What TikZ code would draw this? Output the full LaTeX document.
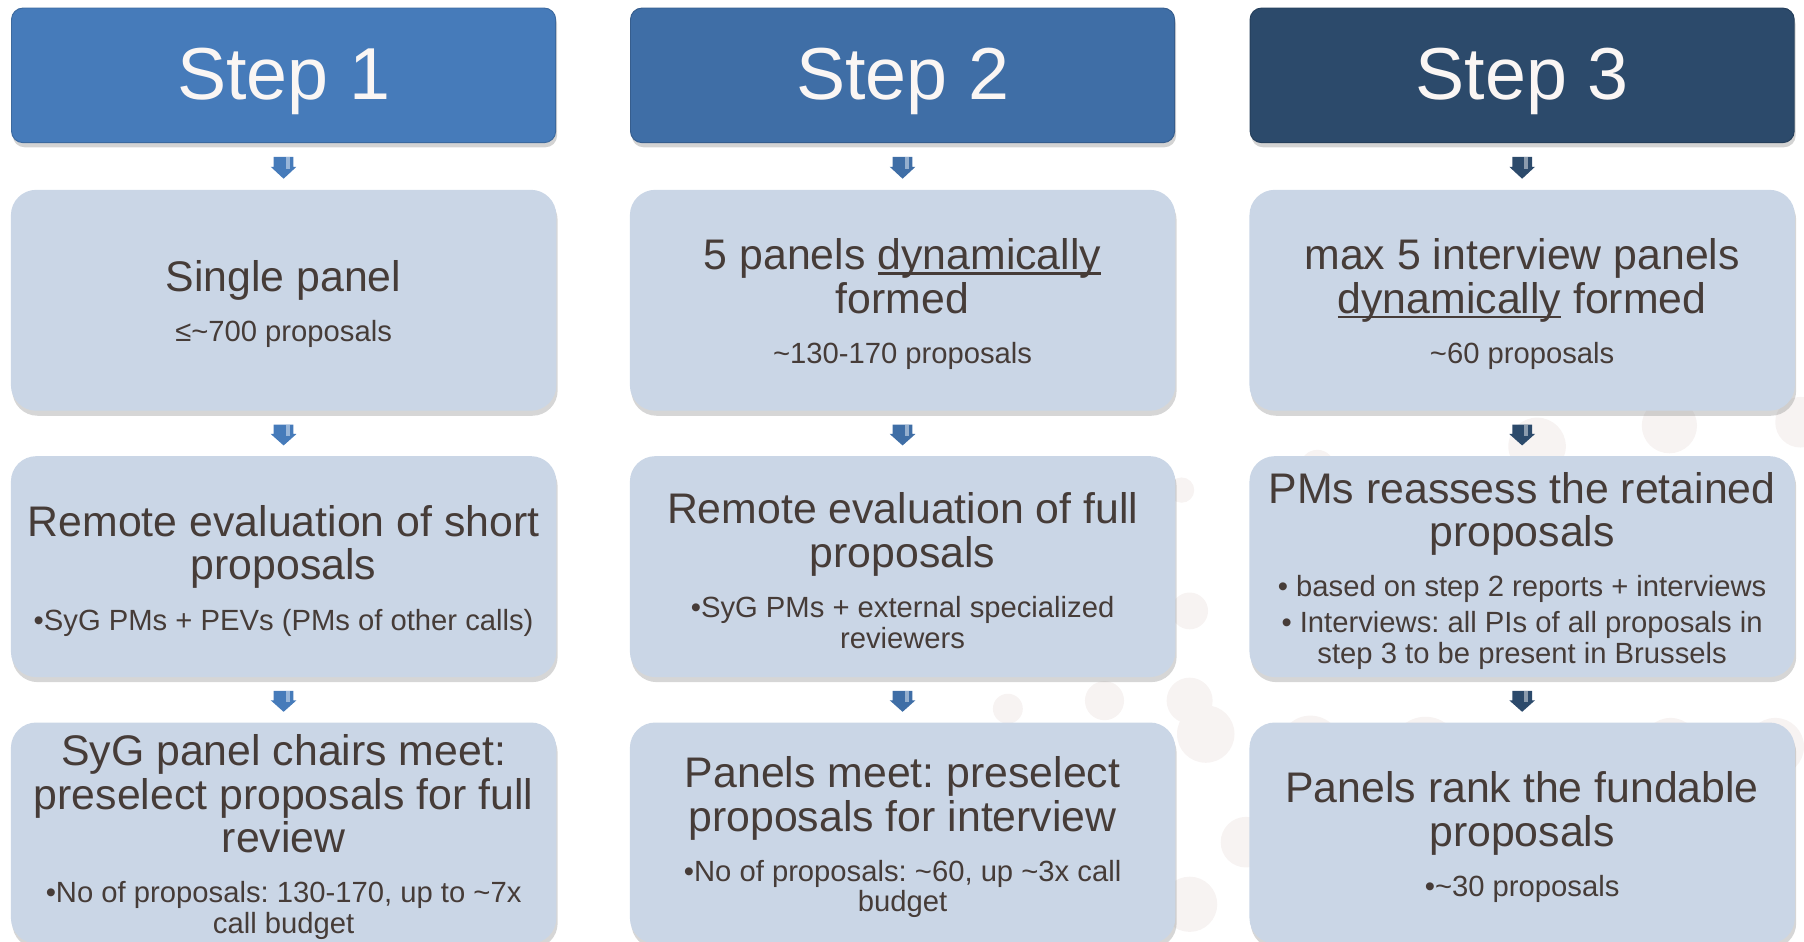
\documentclass[tikz,border=0pt]{standalone}
\usepackage{fontspec}
\setmainfont{Liberation Sans}
\usetikzlibrary{calc,shadows}
\definecolor{hdrA}{HTML}{467BBA}
\definecolor{hdrB}{HTML}{3F6EA6}
\definecolor{hdrC}{HTML}{2C4A6B}
\definecolor{hdrtext}{HTML}{FAF6F4}
\definecolor{boxfill}{HTML}{CAD6E6}
\definecolor{txt}{HTML}{463C38}
\definecolor{circ}{HTML}{F7F3F2}
\newcommand{\titletxt}{\fontsize{18.6}{19}\selectfont}
\newcommand{\subtxt}{\fontsize{12.7}{13.25}\selectfont}
\newcommand{\tld}{\textasciitilde}
\newcommand{\undl}[1]{\leavevmode\setbox0\hbox{#1}\rlap{\rule[-0.11em]{\wd0}{0.065em}}\box0\relax}
\newcommand{\cardtext}[1]{\raisebox{-1.75pt}[\height][\depth]{\parbox{234pt}{\centering #1}}}
\newcommand{\steptext}[1]{\raisebox{-2.5pt}[\height][\depth]{#1}}
\newcommand{\flowarrow}[3]{%
  \path (#1.south) -- coordinate[pos=0.3] (arrtop) coordinate[pos=0.77] (arrbot) (#2.north);
  \fill[#3] ($(arrtop)+(-4.3pt,0)$) -- ($(arrtop)+(4.3pt,0)$) -- ($(arrtop)!0.45!(arrbot)+(4.3pt,0)$) -- ($(arrtop)!0.45!(arrbot)+(5.6pt,0)$) -- (arrbot) -- ($(arrtop)!0.45!(arrbot)+(-5.6pt,0)$) -- ($(arrtop)!0.45!(arrbot)+(-4.3pt,0)$) -- cycle;
  \fill[white, opacity=0.45] ($(arrtop)+(0.9pt,0)$) rectangle ($(arrtop)!0.55!(arrbot)+(2.7pt,0)$);
}
\frenchspacing
\begin{document}
\begin{tikzpicture}[x=0.5pt,y=0.5pt,
  hdr/.style={rounded corners=5pt, minimum width=236.5pt, minimum height=58.5pt, inner sep=0pt,
    text=hdrtext, font=\fontsize{32}{36}\selectfont,
    drop shadow={shadow xshift=0.6pt, shadow yshift=-2pt, opacity=0.35}},
  card/.style={rounded corners=11pt, fill=boxfill, minimum width=237pt, minimum height=96pt,
    inner sep=0pt, text=txt,
    drop shadow={shadow xshift=0.6pt, shadow yshift=-2.2pt, opacity=0.32}},
  dot/.style={fill=circ, draw=none}
]
\useasboundingbox (0,0) rectangle (1568,818);
% faint background circles
\foreach \cx/\cy/\r in {1027/392/11, 1034/287/16, 1048/180/25, 1139/169/27, 1239/165/30,
  1366/147/32, 1452/169/25, 1543/169/25, 1336/430/25, 1451/448/24, 1565/451/22,
  1083/86/22, 1145/412/15, 876/202/13, 960/209/17, 1034/209/20, 1034/32/24}
  \fill[dot] (\cx,\cy) circle (\r);
% headers
\node[hdr, fill=hdrA, draw=hdrA!85!black] (h1) at (246.5,752.5) {\steptext{Step 1}};
\node[hdr, fill=hdrB, draw=hdrB!85!black] (h2) at (784.5,752.5) {\steptext{Step 2}};
\node[hdr, fill=hdrC, draw=hdrC!85!black] (h3) at (1323,752.5) {\steptext{Step 3}};
% row 1
\node[card] (a1) at (246.5,557) {\cardtext{\titletxt Single panel\par\vspace{8.5pt}\subtxt ≤\tld700 proposals\par}};
\node[card] (a2) at (784.5,557) {\cardtext{\titletxt 5 panels \undl{dynamically}\\formed\par\vspace{8.5pt}\subtxt \tld130-170 proposals\par}};
\node[card] (a3) at (1323,557) {\cardtext{\titletxt max 5 interview panels\\\undl{dynamically} formed\par\vspace{8.5pt}\subtxt \tld60 proposals\par}};
% row 2
\node[card] (b1) at (246.5,325.5) {\cardtext{\titletxt Remote evaluation of short\\proposals\par\vspace{8.5pt}\subtxt •SyG PMs + PEVs (PMs of other calls)\par}};
\node[card] (b2) at (784.5,325.5) {\cardtext{\titletxt Remote evaluation of full\\proposals\par\vspace{8.5pt}\subtxt •SyG PMs + external specialized\\reviewers\par}};
\node[card] (b3) at (1323,325.5) {\cardtext{\titletxt PMs reassess the retained\\proposals\par\vspace{8.5pt}\subtxt • based on step 2 reports + interviews\par\vspace{2.25pt}• Interviews: all PIs of all proposals in\\step 3 to be present in Brussels\par}};
% row 3
\node[card] (c1) at (246.5,94) {\cardtext{\titletxt SyG panel chairs meet:\\preselect proposals for full\\review\par\vspace{8.5pt}\subtxt •No of proposals: 130-170, up to \tld7x\\call budget\par}};
\node[card] (c2) at (784.5,94) {\cardtext{\titletxt Panels meet: preselect\\proposals for interview\par\vspace{8.5pt}\subtxt •No of proposals: \tld60, up \tld3x call\\budget\par}};
\node[card] (c3) at (1323,94) {\cardtext{\titletxt Panels rank the fundable\\proposals\par\vspace{8.5pt}\subtxt •\tld30 proposals\par}};
% arrows
\flowarrow{h1}{a1}{hdrA}
\flowarrow{a1}{b1}{hdrA}
\flowarrow{b1}{c1}{hdrA}
\flowarrow{h2}{a2}{hdrB}
\flowarrow{a2}{b2}{hdrB}
\flowarrow{b2}{c2}{hdrB}
\flowarrow{h3}{a3}{hdrC}
\flowarrow{a3}{b3}{hdrC}
\flowarrow{b3}{c3}{hdrC}
\end{tikzpicture}
\end{document}
